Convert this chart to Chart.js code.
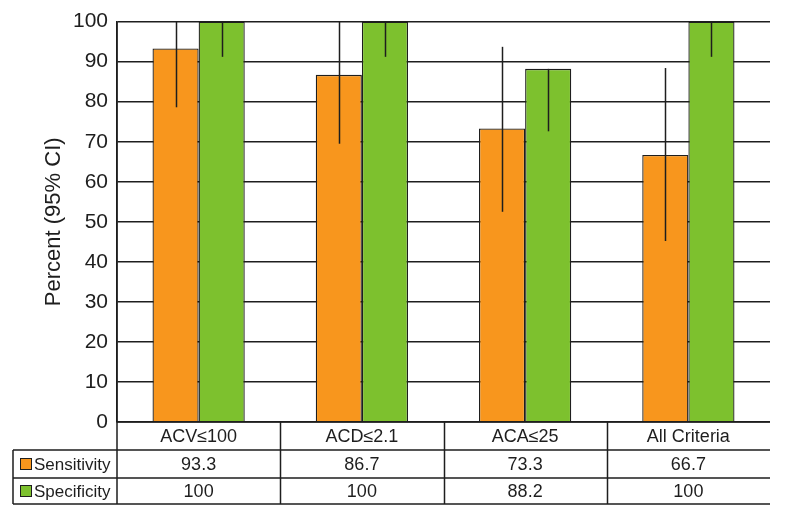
<!DOCTYPE html>
<html>
<head>
<meta charset="utf-8">
<script src="https://cdn.jsdelivr.net/npm/chart.js@4"></script>
<style>
  html, body { margin: 0; padding: 0; background: #fff; }
  #wrap { width: 787px; height: 515px; position: relative; }
</style>
</head>
<body>
<div id="wrap"><canvas id="chart" width="787" height="515"></canvas></div>
<script>
// ---- data ----
const categories = ["ACV\u2264100", "ACD\u22642.1", "ACA\u226425", "All Criteria"];
const seriesNames = ["Sensitivity", "Specificity"];
const sensitivity = [93.3, 86.7, 73.3, 66.7];
const specificity = [100, 100, 88.2, 100];
const sensLow = [78.6, 69.5, 52.5, 45.2];
const sensHigh = [100, 100, 93.7, 88.4];
const specLow = [91.2, 91.2, 72.6, 91.2];
const specHigh = [100, 100, 88.2, 100];
const yTicks = [0, 10, 20, 30, 40, 50, 60, 70, 80, 90, 100];

const ORANGE = "#F8961D";
const GREEN = "#7DC12E";
const INK = "#1e1e1e";
const FONT = "'Liberation Sans', Arial, sans-serif";

// ---- error bars ----
const errorBars = {
  id: "errorBars",
  afterDatasetsDraw(chart) {
    const ctx = chart.ctx;
    const y = chart.scales.y;
    const ranges = [[sensLow, sensHigh], [specLow, specHigh]];
    ctx.save();
    ctx.strokeStyle = INK;
    ctx.lineWidth = 1.5;
    chart.data.datasets.forEach((ds, i) => {
      const meta = chart.getDatasetMeta(i);
      meta.data.forEach((bar, j) => {
        const top = y.getPixelForValue(ranges[i][1][j]);
        const bot = y.getPixelForValue(ranges[i][0][j]);
        ctx.beginPath();
        ctx.moveTo(Math.round(bar.x) + 0.5, top);
        ctx.lineTo(Math.round(bar.x) + 0.5, bot);
        ctx.stroke();
      });
    });
    ctx.restore();
  }
};

// ---- data table under the plot ----
const dataTable = {
  id: "dataTable",
  afterDraw(chart) {
    const ctx = chart.ctx;
    const x = chart.scales.x;
    const area = chart.chartArea;
    const left = area.left, right = area.right, base = area.bottom;
    const rows = [base, base + 28, base + 56, base + 82];
    const tableLeft = 13;
    const step = (right - left) / categories.length;
    ctx.save();
    ctx.strokeStyle = INK;
    ctx.lineWidth = 1.5;
    ctx.beginPath();
    ctx.moveTo(left, rows[0]); ctx.lineTo(right, rows[0]);
    for (let r = 1; r < rows.length; r++) {
      ctx.moveTo(tableLeft, rows[r]); ctx.lineTo(right, rows[r]);
    }
    ctx.moveTo(left, area.top); ctx.lineTo(left, rows[3]);
    ctx.moveTo(tableLeft, rows[1]); ctx.lineTo(tableLeft, rows[3]);
    for (let c = 1; c < categories.length; c++) {
      const xx = Math.round(left + step * c) + 0.5;
      ctx.moveTo(xx, rows[0]); ctx.lineTo(xx, rows[3]);
    }
    ctx.stroke();

    ctx.fillStyle = INK;
    ctx.textAlign = "center";
    ctx.textBaseline = "middle";
    ctx.font = "18px " + FONT;
    categories.forEach((c, i) => {
      const cx = x.getPixelForValue(i);
      ctx.fillText(c, cx, (rows[0] + rows[1]) / 2 + 1);
      ctx.fillText(String(sensitivity[i]), cx, (rows[1] + rows[2]) / 2 + 1);
      ctx.fillText(String(specificity[i]), cx, (rows[2] + rows[3]) / 2 + 1);
    });
    const colors = [ORANGE, GREEN];
    ctx.textAlign = "left";
    ctx.font = "17px " + FONT;
    seriesNames.forEach((name, k) => {
      const cy = (rows[k + 1] + rows[k + 2]) / 2;
      ctx.fillStyle = colors[k];
      ctx.fillRect(21, cy - 5, 10, 10);
      ctx.strokeStyle = INK;
      ctx.lineWidth = 1;
      ctx.strokeRect(20.5, cy - 5.5, 11, 11);
      ctx.fillStyle = INK;
      ctx.fillText(name, 34, cy + 1);
    });
    ctx.restore();
  }
};

new Chart(document.getElementById("chart"), {
  type: "bar",
  data: {
    labels: categories,
    datasets: [
      {
        label: seriesNames[0],
        data: sensitivity,
        backgroundColor: ORANGE,
        borderColor: INK,
        borderWidth: 1.3,
        borderSkipped: "bottom"
      },
      {
        label: seriesNames[1],
        data: specificity,
        backgroundColor: GREEN,
        borderColor: INK,
        borderWidth: 1.3,
        borderSkipped: "bottom"
      }
    ]
  },
  options: {
    responsive: false,
    animation: false,
    devicePixelRatio: 1,
    categoryPercentage: 0.565,
    barPercentage: 1.0,
    layout: { padding: { top: 12, right: 17, bottom: 93, left: 41 } },
    plugins: {
      legend: { display: false },
      tooltip: { enabled: false }
    },
    scales: {
      x: {
        ticks: { display: false },
        grid: { display: false },
        border: { display: false },
        afterFit: (s) => { s.height = 0; }
      },
      y: {
        min: 0,
        max: 100,
        afterBuildTicks: (s) => { s.ticks = yTicks.map(v => ({ value: v })); },
        afterFit: (s) => { s.width = 76; },
        ticks: {
          color: INK,
          padding: 9,
          font: { size: 21, family: FONT }
        },
        grid: { color: INK, lineWidth: 1.5, drawTicks: false },
        border: { display: true, color: INK, width: 1.5 },
        title: {
          display: true,
          text: "Percent (95% CI)",
          color: INK,
          padding: { top: 0, bottom: 0 },
          font: { size: 22, family: FONT }
        }
      }
    }
  },
  plugins: [errorBars, dataTable]
});
</script>
</body>
</html>
